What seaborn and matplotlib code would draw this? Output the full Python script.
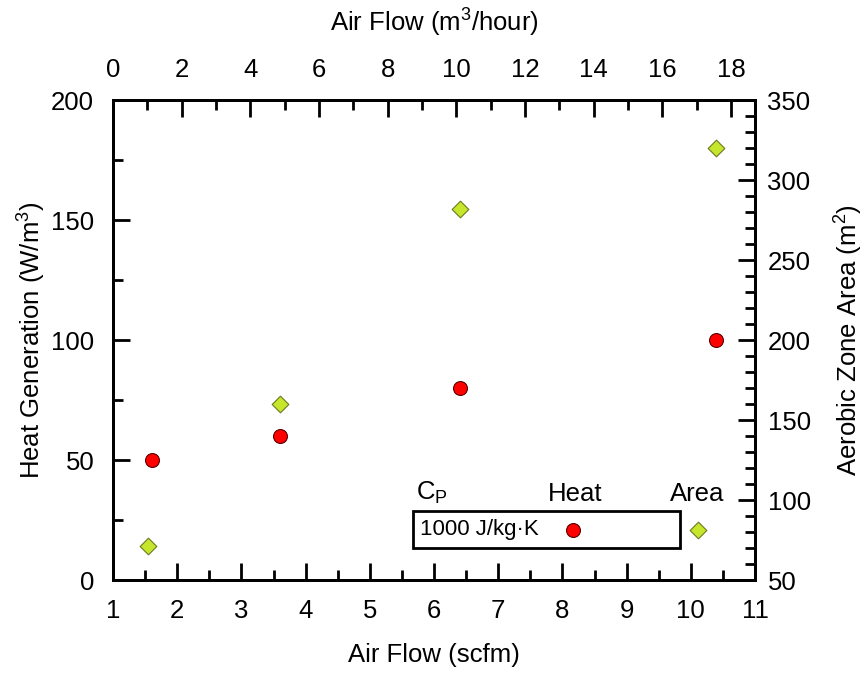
import matplotlib
matplotlib.use("Agg")
import matplotlib.pyplot as plt
import seaborn as sns
import pandas as pd
from matplotlib.ticker import MultipleLocator
from matplotlib.patches import Rectangle

# ---- data ----
heat_flow = [1.6, 3.6, 6.4, 10.4]
heat_values = [50, 60, 80, 100]
area_flow = [1.55, 3.6, 6.4, 10.4]
area_values = [71, 160, 282, 320]
legend_header = ["C$_\\mathregular{P}$", "Heat", "Area"]
legend_row = "1000 J/kg·K"

sns.set_theme(style="white")
plt.rcParams['font.family'] = ['Liberation Sans', 'DejaVu Sans']
plt.rcParams['mathtext.fontset'] = 'custom'
plt.rcParams['mathtext.rm'] = 'Liberation Sans'
plt.rcParams['mathtext.it'] = 'Liberation Sans'
for k in ('text.color', 'axes.labelcolor', 'xtick.color', 'ytick.color'):
    plt.rcParams[k] = 'black'

FS = 18.5
red = "#ff0000"
green = "#c6e62c"

fig = plt.figure(figsize=(8.66, 6.75), dpi=100)
ax = fig.add_axes([113/866, 1-580/675, 642/866, 480/675])

heat_df = pd.DataFrame({"flow": heat_flow, "heat": heat_values})
area_df = pd.DataFrame({"flow": area_flow, "area": area_values})

sns.scatterplot(data=heat_df, x="flow", y="heat", ax=ax, color=red, marker="o",
                s=100, edgecolor="#5a0000", linewidth=0.8, zorder=5, legend=False)
ax.set_xlim(1, 11)
ax.set_ylim(0, 200)
ax.xaxis.set_major_locator(MultipleLocator(1))
ax.xaxis.set_minor_locator(MultipleLocator(0.5))
ax.yaxis.set_major_locator(MultipleLocator(50))
ax.yaxis.set_minor_locator(MultipleLocator(25))
ax.set_xlabel("Air Flow (scfm)", fontsize=FS, labelpad=14)
ax.set_ylabel("Heat Generation (W/m$^3$)", fontsize=FS, labelpad=2)

ax2 = ax.twinx()
sns.scatterplot(data=area_df, x="flow", y="area", ax=ax2, color=green, marker="D",
                s=72, edgecolor="#6b7a20", linewidth=0.8, zorder=5, legend=False)
ax2.set_ylim(50, 350)
ax2.set_xlim(1, 11)
ax2.yaxis.set_major_locator(MultipleLocator(50))
ax2.yaxis.set_minor_locator(MultipleLocator(10))
ax2.set_ylabel("Aerobic Zone Area (m$^2$)", fontsize=FS, labelpad=16)

ax3 = ax.twiny()
ax3.set_xlim(0, 642/34.33)
ax3.xaxis.set_major_locator(MultipleLocator(2))
ax3.xaxis.set_minor_locator(MultipleLocator(1))
ax3.set_xlabel("Air Flow (m$^3$/hour)", fontsize=FS, labelpad=19)

for a in (ax, ax2, ax3):
    for sp in a.spines.values():
        sp.set_linewidth(2)
        sp.set_color("black")
    a.grid(False)

ax.tick_params(axis="x", which="both", direction="in", bottom=True, top=False,
               labelsize=FS, pad=14, width=2, color="black")
ax.tick_params(axis="x", which="major", length=12)
ax.tick_params(axis="x", which="minor", length=7)
ax.tick_params(axis="y", which="both", direction="in", left=True, right=False,
               labelsize=FS, pad=13.5, width=2, color="black")
ax.tick_params(axis="y", which="major", length=12)
ax.tick_params(axis="y", which="minor", length=7)
ax2.tick_params(axis="y", which="both", direction="in", right=True, left=False,
                labelsize=FS, pad=9, width=2, color="black")
ax2.tick_params(axis="y", which="major", length=12)
ax2.tick_params(axis="y", which="minor", length=7)
ax3.tick_params(axis="x", which="both", direction="in", top=True, bottom=False,
                labelsize=FS, pad=13, width=2, color="black")
ax3.tick_params(axis="x", which="major", length=12)
ax3.tick_params(axis="x", which="minor", length=7)

# ---- legend ----
def axx(px):
    return (px - 113) / 642

def axy(py):
    return (580 - py) / 480

ax2.add_patch(Rectangle((axx(413), axy(548)), axx(680) - axx(413), axy(511) - axy(548),
                        transform=ax2.transAxes, fill=True, facecolor="white",
                        edgecolor="black", linewidth=2, zorder=6, clip_on=False))
ax2.text(axx(416), axy(493), legend_header[0], transform=ax2.transAxes, fontsize=FS,
         ha="left", va="center", zorder=7)
ax2.text(axx(575), axy(494), legend_header[1], transform=ax2.transAxes, fontsize=FS,
         ha="center", va="center", zorder=7)
ax2.text(axx(697), axy(494), legend_header[2], transform=ax2.transAxes, fontsize=FS,
         ha="center", va="center", zorder=7)
ax2.text(axx(420), axy(529.5), legend_row, transform=ax2.transAxes, fontsize=16,
         ha="left", va="center", zorder=7)
ax2.scatter([axx(573)], [axy(530)], transform=ax2.transAxes, s=100, marker="o",
            color=red, edgecolor="#5a0000", linewidth=0.8, zorder=8, clip_on=False)
ax2.scatter([axx(697.5)], [axy(530)], transform=ax2.transAxes, s=72, marker="D",
            color=green, edgecolor="#6b7a20", linewidth=0.8, zorder=8, clip_on=False)

fig.savefig("out.png", dpi=100)
